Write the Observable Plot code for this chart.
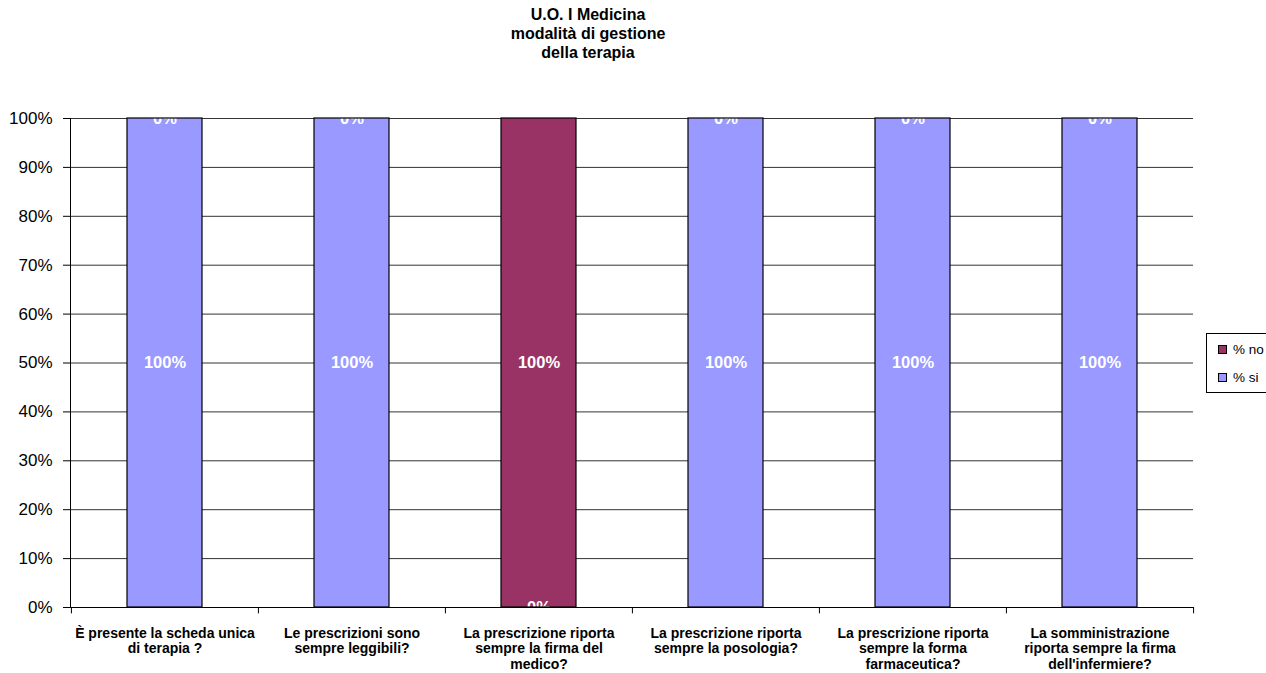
<!DOCTYPE html>
<html>
<head>
<meta charset="utf-8">
<script src="https://cdn.jsdelivr.net/npm/d3@7"></script>
<script src="https://cdn.jsdelivr.net/npm/@observablehq/plot@0.6"></script>
<style>
  body { margin: 0; background: #fff; font-family: "Liberation Sans", Arial, sans-serif; }
  #wrap { position: relative; width: 1266px; height: 673px; overflow: hidden; }
  #title { position: absolute; left: 0; top: 5px; width: 1176px; text-align: center; font-weight: bold; font-size: 16px; line-height: 19px; color: #000; }
  #legend { position: absolute; left: 1206px; top: 333px; width: 80px; height: 58px; border: 1px solid #000; background: #fff; font-size: 13.5px; }
  .item { position: absolute; left: 11px; display: flex; align-items: center; }
  .sw { width: 7px; height: 7px; border: 1px solid #000; margin-right: 6px; }
  #chart { position: absolute; left: 0; top: 0; }
</style>
</head>
<body>
<div id="wrap">
  <div id="chart"></div>
  <div id="title">U.O. I Medicina<br>modalità di gestione<br>della terapia</div>
  <div id="legend">
    <div class="item" style="top:8px"><div class="sw" style="background:#993366"></div>% no</div>
    <div class="item" style="top:36px"><div class="sw" style="background:#9999FF"></div>% si</div>
  </div>
</div>
<script>
const categories = [
  "È presente la scheda unica di terapia ?",
  "Le prescrizioni sono sempre leggibili?",
  "La prescrizione riporta sempre la firma del medico?",
  "La prescrizione riporta sempre la posologia?",
  "La prescrizione riporta sempre la forma farmaceutica?",
  "La somministrazione riporta sempre la firma dell'infermiere?"
];
const tickLabels = [
  "È presente la scheda unica\ndi terapia ?",
  "Le prescrizioni sono\nsempre leggibili?",
  "La prescrizione riporta\nsempre la firma del\nmedico?",
  "La prescrizione riporta\nsempre la posologia?",
  "La prescrizione riporta\nsempre la forma\nfarmaceutica?",
  "La somministrazione\nriporta sempre la firma\ndell'infermiere?"
];
const seriesNames = ["% no", "% si"];
const seriesColors = ["#993366", "#9999FF"];
const pctNo = [0, 0, 1, 0, 0, 0];
const pctSi = [1, 1, 0, 1, 1, 1];
const yTicks = [0, 0.1, 0.2, 0.3, 0.4, 0.5, 0.6, 0.7, 0.8, 0.9, 1];

const rows = [];
categories.forEach((q, i) => {
  rows.push({q, series: "% si", value: pctSi[i]});
  rows.push({q, series: "% no", value: pctNo[i]});
});

const W = 1266, H = 673, mL = 70, mR = 73, mT = 118, mB = 66;
const step = (W - mL - mR) / categories.length;
const stackOrder = ["% si", "% no"];
const fmt = d3.format(".0%");

const chart = Plot.plot({
  width: W, height: H,
  marginLeft: mL, marginRight: mR, marginTop: mT, marginBottom: mB,
  style: {fontFamily: "Liberation Sans, Arial, sans-serif", background: "#fff", color: "#000"},
  x: {domain: categories, paddingInner: 0.6, paddingOuter: 0.3, label: null},
  y: {domain: [0, 1], label: null},
  color: {domain: seriesNames, range: seriesColors},
  marks: [
    Plot.gridY(yTicks, {stroke: "#333", strokeOpacity: 1, strokeWidth: 1}),
    Plot.barY(rows, Plot.stackY({x: "q", y: "value", fill: "series", order: stackOrder})),
    Plot.text(rows, Plot.stackY({x: "q", y: "value", z: "series", order: stackOrder,
      text: d => fmt(d.value), fill: "white", fontWeight: "bold", fontSize: 16.5, clip: "frame"})),
    Plot.barY(rows, Plot.stackY({x: "q", y: "value", z: "series", order: stackOrder, fill: "none", stroke: "#000", strokeWidth: 1.2})),
    Plot.frame({anchor: "left", stroke: "#000"}),
    Plot.frame({anchor: "bottom", stroke: "#000"}),
    Plot.ruleX(categories, {x: d => d, dx: -step / 2, y1: 0, y2: -0.013, stroke: "#000", clip: false}),
    Plot.ruleX(categories.slice(-1), {x: d => d, dx: step / 2, y1: 0, y2: -0.013, stroke: "#000", clip: false}),
    Plot.axisY(yTicks, {tickFormat: fmt, tickSize: 7, tickPadding: 11, fontSize: 17, stroke: "#000"}),
    Plot.axisX({tickSize: 0, tickPadding: 19, tickFormat: d => tickLabels[categories.indexOf(d)],
      fontWeight: "bold", fontSize: 14, lineHeight: 1.12, lineWidth: Infinity})
  ]
});
document.getElementById("chart").appendChild(chart);
</script>
</body>
</html>
